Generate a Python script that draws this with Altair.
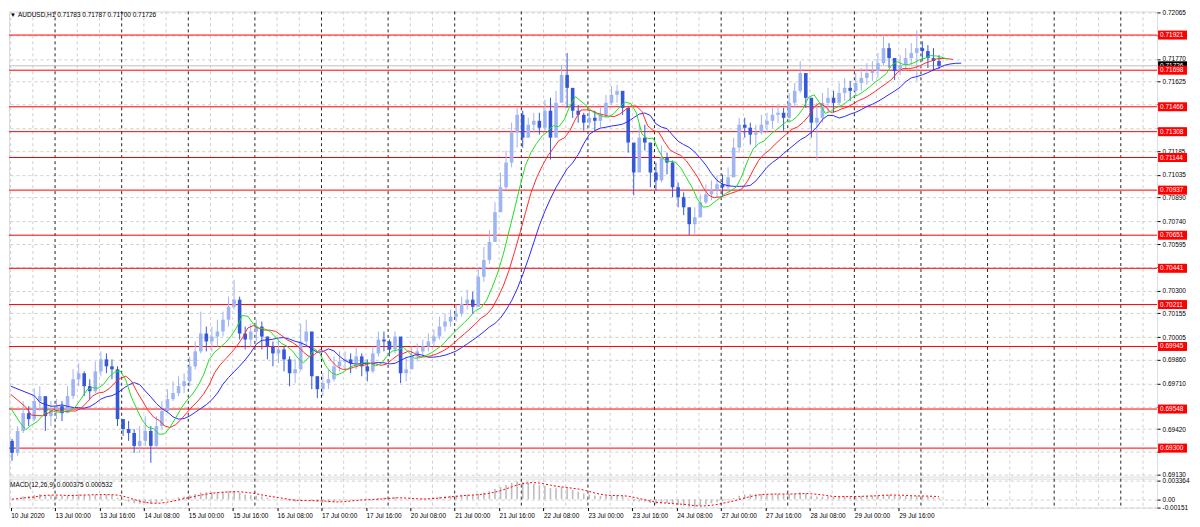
import altair as alt
import pandas as pd

# ---------------- data (2-hour bars, AUDUSD) ----------------
first_open = 0.69346
closes = [
    0.69270, 0.69409, 0.69522, 0.69484, 0.69598, 0.69630, 0.69503, 0.69535, 0.69566, 0.69522,
    0.69630, 0.69737, 0.69775, 0.69693, 0.69661, 0.69787, 0.69863, 0.69819, 0.69800, 0.69484,
    0.69421, 0.69396, 0.69314, 0.69346, 0.69409, 0.69314, 0.69440, 0.69535, 0.69611, 0.69649,
    0.69693, 0.69724, 0.69819, 0.69914, 0.70027, 0.69977, 0.70008, 0.70040, 0.70115, 0.70197,
    0.70242, 0.70027, 0.69989, 0.70040, 0.70071, 0.70008, 0.69945, 0.69901, 0.69926, 0.69863,
    0.69775, 0.69800, 0.69977, 0.70040, 0.69756, 0.69674, 0.69712, 0.69737, 0.69819, 0.69850,
    0.69863, 0.69838, 0.69882, 0.69819, 0.69787, 0.69901, 0.69989, 0.69977, 0.69926, 0.70008,
    0.69775, 0.69800, 0.69882, 0.69914, 0.69945, 0.69977, 0.70008, 0.70071, 0.70103, 0.70134,
    0.70153, 0.70216, 0.70242, 0.70197, 0.70387, 0.70494, 0.70608, 0.70797, 0.70955, 0.71112,
    0.71302, 0.71415, 0.71270, 0.71352, 0.71377, 0.71333, 0.71441, 0.71270, 0.71491, 0.71668,
    0.71586, 0.71441, 0.71415, 0.71365, 0.71396, 0.71377, 0.71415, 0.71491, 0.71542, 0.71567,
    0.71459, 0.71239, 0.71049, 0.71270, 0.71239, 0.71049, 0.70999, 0.71144, 0.71112, 0.70955,
    0.70892, 0.70828, 0.70721, 0.70765, 0.70860, 0.70910, 0.70936, 0.70974, 0.70955, 0.71018,
    0.71207, 0.71352, 0.71333, 0.71289, 0.71302, 0.71352, 0.71377, 0.71415, 0.71428, 0.71396,
    0.71491, 0.71567, 0.71680, 0.71523, 0.71365, 0.71396, 0.71491, 0.71523, 0.71491, 0.71554,
    0.71586, 0.71567, 0.71617, 0.71649, 0.71680, 0.71693, 0.71743, 0.71838, 0.71775, 0.71693,
    0.71731, 0.71775, 0.71807, 0.71838, 0.71819, 0.71775, 0.71756, 0.71726,
]
highs = [
    0.69358, 0.69440, 0.69598, 0.69566, 0.69680, 0.69693, 0.69611, 0.69598, 0.69611, 0.69598,
    0.69693, 0.69800, 0.69838, 0.69787, 0.69737, 0.69850, 0.69914, 0.69901, 0.69863, 0.69819,
    0.69484, 0.69472, 0.69421, 0.69440, 0.69503, 0.69440, 0.69503, 0.69598, 0.69674, 0.69724,
    0.69756, 0.69775, 0.69882, 0.69977, 0.70166, 0.70071, 0.70071, 0.70115, 0.70166, 0.70261,
    0.70368, 0.70261, 0.70071, 0.70090, 0.70115, 0.70103, 0.70008, 0.69977, 0.69989, 0.69945,
    0.69882, 0.69863, 0.70090, 0.70115, 0.70008, 0.69756, 0.69775, 0.69800, 0.69882, 0.69914,
    0.69914, 0.69901, 0.69945, 0.69901, 0.69863, 0.69945, 0.70040, 0.70040, 0.69989, 0.70040,
    0.69989, 0.69882, 0.69945, 0.69964, 0.69989, 0.70027, 0.70052, 0.70134, 0.70153, 0.70179,
    0.70210, 0.70261, 0.70305, 0.70292, 0.70450, 0.70576, 0.70683, 0.70860, 0.71049, 0.71188,
    0.71365, 0.71459, 0.71441, 0.71396, 0.71428, 0.71428, 0.71510, 0.71523, 0.71567, 0.71731,
    0.71807, 0.71504, 0.71478, 0.71428, 0.71441, 0.71441, 0.71459, 0.71542, 0.71598, 0.71605,
    0.71523, 0.71459, 0.71207, 0.71352, 0.71352, 0.71144, 0.71112, 0.71220, 0.71175, 0.71125,
    0.70986, 0.70923, 0.70828, 0.70828, 0.70910, 0.70974, 0.70999, 0.71030, 0.71037, 0.71081,
    0.71270, 0.71396, 0.71396, 0.71365, 0.71352, 0.71415, 0.71428, 0.71459, 0.71478, 0.71459,
    0.71554, 0.71617, 0.71756, 0.71680, 0.71523, 0.71491, 0.71554, 0.71586, 0.71567, 0.71617,
    0.71649, 0.71630, 0.71680, 0.71712, 0.71743, 0.71756, 0.71807, 0.71920, 0.71870, 0.71775,
    0.71794, 0.71838, 0.71870, 0.71952, 0.71882, 0.71857, 0.71838, 0.71794,
]
lows = [
    0.69220, 0.69251, 0.69396, 0.69440, 0.69472, 0.69535, 0.69409, 0.69440, 0.69484, 0.69472,
    0.69548, 0.69611, 0.69693, 0.69630, 0.69611, 0.69649, 0.69756, 0.69775, 0.69737, 0.69440,
    0.69377, 0.69346, 0.69270, 0.69270, 0.69314, 0.69207, 0.69295, 0.69421, 0.69522, 0.69598,
    0.69630, 0.69649, 0.69693, 0.69800, 0.69901, 0.69914, 0.69914, 0.69945, 0.70008, 0.70071,
    0.70179, 0.69989, 0.69926, 0.69945, 0.69977, 0.69926, 0.69863, 0.69819, 0.69838, 0.69787,
    0.69693, 0.69712, 0.69787, 0.69945, 0.69674, 0.69617, 0.69630, 0.69674, 0.69724, 0.69787,
    0.69800, 0.69775, 0.69800, 0.69756, 0.69724, 0.69775, 0.69882, 0.69914, 0.69882, 0.69901,
    0.69712, 0.69724, 0.69819, 0.69850, 0.69882, 0.69914, 0.69945, 0.69989, 0.70040, 0.70071,
    0.70103, 0.70134, 0.70179, 0.70153, 0.70197, 0.70355, 0.70469, 0.70620, 0.70797, 0.70936,
    0.71081, 0.71207, 0.71207, 0.71270, 0.71302, 0.71289, 0.71314, 0.71131, 0.71365, 0.71523,
    0.71459, 0.71396, 0.71365, 0.71314, 0.71333, 0.71314, 0.71333, 0.71396, 0.71478, 0.71491,
    0.71415, 0.71175, 0.70904, 0.71081, 0.71188, 0.70955, 0.70936, 0.70986, 0.71037, 0.70892,
    0.70828, 0.70778, 0.70652, 0.70658, 0.70765, 0.70847, 0.70873, 0.70892, 0.70892, 0.70923,
    0.71037, 0.71175, 0.71270, 0.71226, 0.71207, 0.71289, 0.71302, 0.71333, 0.71365, 0.71314,
    0.71365, 0.71459, 0.71554, 0.71459, 0.71270, 0.71125, 0.71365, 0.71428, 0.71428, 0.71478,
    0.71504, 0.71504, 0.71535, 0.71567, 0.71605, 0.71630, 0.71649, 0.71731, 0.71712, 0.71636,
    0.71668, 0.71693, 0.71731, 0.71630, 0.71756, 0.71712, 0.71693, 0.71706,
]

# Alligator starting levels read at the left edge (jaw, teeth, lips)
alligator_seed = [0.69693, 0.69642, 0.69554]

level_prices = [0.71921, 0.71698, 0.71466, 0.71308, 0.71144, 0.70937,
                0.70651, 0.70441, 0.70211, 0.69945, 0.69548, 0.69300]
bid_price = 0.71726

price_ticks = [0.72065, 0.71920, 0.71770, 0.71625, 0.71480, 0.71330, 0.71185,
               0.71035, 0.70890, 0.70740, 0.70595, 0.70450, 0.70300, 0.70155,
               0.70005, 0.69860, 0.69710, 0.69565, 0.69420, 0.69275, 0.69130]

time_labels = ['10 Jul 2020', '13 Jul 00:00', '13 Jul 16:00', '14 Jul 08:00',
               '15 Jul 00:00', '15 Jul 16:00', '16 Jul 08:00', '17 Jul 00:00',
               '17 Jul 16:00', '20 Jul 08:00', '21 Jul 00:00', '21 Jul 16:00',
               '22 Jul 08:00', '23 Jul 00:00', '23 Jul 16:00', '24 Jul 08:00',
               '27 Jul 00:00', '27 Jul 16:00', '28 Jul 08:00', '29 Jul 00:00',
               '29 Jul 16:00']
label_hours = [0, 16, 32, 48, 64, 80, 96, 112, 128, 144, 160, 176, 192, 208,
               224, 240, 256, 272, 288, 304, 320]
day_start_hours = [16, 40, 64, 88, 112, 136, 160, 184, 208, 232, 256, 280,
                   304, 328, 352, 376, 400]
grid_hours = [h for h in range(0, 416, 8) if h not in day_start_hours]

macd_ticks = [0.003364, 0.0, -0.00151]
macd_tick_labels = ['0.003364', '0.00', '-0.00151']

header_text = 'AUDUSD,H1  0.71783 0.71787 0.71700 0.71726'
macd_text = 'MACD(12,26,9) 0.000375 0.000532'

# ---------------- tables ----------------
W, H_MAIN, H_MACD = 1150, 466, 29
FONT = 'Liberation Sans'
FS = 6.5
XDOM = [-0.6, 413.07]

n = len(closes)
hours = [2 * j + 0.5 for j in range(n)]
opens = [first_open] + closes[:-1]
candles = pd.DataFrame({
    'hour': hours, 'open': opens, 'close': closes, 'high': highs, 'low': lows,
    'dir': ['up' if c >= o else 'down' for o, c in zip(opens, closes)],
})


def smooth(values, alpha, seed):
    out, s = [], seed
    for v in values:
        s = s + alpha * (v - s)
        out.append(s)
    return out


median = [(h + l) / 2 for h, l in zip(highs, lows)]


def gator_table(alpha, shift, seed):
    rows = [{'hour': 0.0, 'price': seed}]
    for hr, v in zip(hours, smooth(median, alpha, seed)):
        rows.append({'hour': hr + shift, 'price': v})
    return pd.DataFrame(rows)


jaw = gator_table(0.148, 8, alligator_seed[0])
teeth = gator_table(0.234, 5, alligator_seed[1])
lips = gator_table(0.36, 3, alligator_seed[2])

ema_fast = smooth(closes, 0.284, closes[0])
ema_slow = smooth(closes, 0.143, closes[0])
macd_vals = [a - b for a, b in zip(ema_fast, ema_slow)]
macd_df = pd.DataFrame({'hour': hours, 'macd': macd_vals})
macd_df['signal'] = macd_df['macd'].rolling(5, min_periods=1).mean()

levels = pd.DataFrame({'price': level_prices, 'label': [f'{p:.5f}' for p in level_prices]})
bid = pd.DataFrame({'price': [bid_price], 'label': [f'{bid_price:.5f}']})
grid_df = pd.DataFrame({'hour': grid_hours})
day_df = pd.DataFrame({'hour': day_start_hours})

# axis labels that sit under a price-level box are not shown (the box covers them)
hidden = [p for p in price_ticks if min(abs(p - q) for q in level_prices) < 0.0003]
hide_cond = ' || '.join(f'abs(datum.value - {p}) < 1e-7' for p in hidden) or 'false'
y_label_expr = f"({hide_cond}) ? '' : format(datum.value, '.5f')"

# ---------------- encodings ----------------
xscale = alt.Scale(domain=XDOM, nice=False, zero=False)
yscale = alt.Scale(domain=[0.69119, 0.72071], nice=False, zero=False)
yaxis = alt.Axis(orient='right', values=price_ticks, labelExpr=y_label_expr, title=None,
                 labelFont=FONT, labelFontSize=FS, labelColor='#000', labelPadding=2,
                 tickSize=3, tickColor='#000', domain=False,
                 grid=True, gridDash=[3, 3], gridColor='#cfcfcf')


def X(field):
    return alt.X(f'{field}:Q', scale=xscale, axis=None)


def Y(field):
    return alt.Y(f'{field}:Q', scale=yscale, axis=yaxis)


vgrid = alt.Chart(grid_df).mark_rule(color='#cfcfcf', strokeDash=[3, 3], strokeWidth=1).encode(x=X('hour'))
vday = alt.Chart(day_df).mark_rule(color='#222', strokeDash=[3, 3], strokeWidth=1).encode(x=X('hour'))

level_lines = alt.Chart(levels).mark_rule(color='#ff0000', strokeWidth=1).encode(y=Y('price'))
bid_line = alt.Chart(bid).mark_rule(color='#c0c0c0', strokeWidth=1).encode(y=Y('price'))

dir_color = alt.Color('dir:N', scale=alt.Scale(domain=['up', 'down'], range=['#9fb4f2', '#3558d8']), legend=None)
wicks = alt.Chart(candles).mark_rule(strokeWidth=1).encode(
    x=X('hour'), y=Y('low'), y2='high:Q', color=dir_color)
bodies = alt.Chart(candles).mark_rule(strokeWidth=3.6, strokeCap='butt').encode(
    x=X('hour'), y=Y('open'), y2='close:Q', color=dir_color)

jaw_line = alt.Chart(jaw).mark_line(strokeWidth=1, color='#2a2aff').encode(x=X('hour'), y=Y('price'))
teeth_line = alt.Chart(teeth).mark_line(strokeWidth=1, color='#ff2a2a').encode(x=X('hour'), y=Y('price'))
lips_line = alt.Chart(lips).mark_line(strokeWidth=1, color='#22dd22').encode(x=X('hour'), y=Y('price'))

bid_box = alt.Chart(bid).mark_rule(color='#000', strokeWidth=9, strokeCap='butt').encode(
    y=Y('price'), x=alt.value(W + 1), x2=alt.value(W + 30))
bid_txt = alt.Chart(bid).mark_text(align='left', baseline='middle', color='white', font=FONT, fontSize=FS).encode(
    y=Y('price'), x=alt.value(W + 3), text='label:N')
lvl_box = alt.Chart(levels).mark_rule(color='#ff0000', strokeWidth=9, strokeCap='butt').encode(
    y=Y('price'), x=alt.value(W + 1), x2=alt.value(W + 30))
lvl_txt = alt.Chart(levels).mark_text(align='left', baseline='middle', color='white', font=FONT, fontSize=FS).encode(
    y=Y('price'), x=alt.value(W + 3), text='label:N')

hdr = alt.Chart(pd.DataFrame({'t': [header_text], 'm': ['\u25bc']}))
hdr_tri = hdr.mark_text(align='left', baseline='middle', fontSize=6, color='#000').encode(
    x=alt.value(1), y=alt.value(4), text='m:N')
hdr_txt = hdr.mark_text(align='left', baseline='middle', font=FONT, fontSize=FS, color='#000').encode(
    x=alt.value(9), y=alt.value(4), text='t:N')

main = alt.layer(vgrid, vday, level_lines, bid_line, wicks, bodies,
                 jaw_line, teeth_line, lips_line,
                 bid_box, bid_txt, lvl_box, lvl_txt, hdr_tri, hdr_txt).properties(width=W, height=H_MAIN)

# ---------------- MACD panel ----------------
arr = '[' + ','.join(f"'{s}'" for s in time_labels) + ']'
x_label_expr = f'{arr}[round(datum.value/16)]'
macd_expr = ' : '.join(f"abs(datum.value - ({v})) < 1e-9 ? '{s}'" for v, s in zip(macd_ticks, macd_tick_labels)) + " : ''"

mxscale = alt.Scale(domain=XDOM, nice=False, zero=False)
mxaxis = alt.Axis(values=label_hours, labelExpr=x_label_expr, labelAlign='left', title=None,
                  labelFont=FONT, labelFontSize=FS, labelColor='#000', labelPadding=2,
                  tickSize=3, tickColor='#000', domain=False, grid=False, labelOverlap=False)
myscale = alt.Scale(domain=[-0.00151, 0.0037], nice=False, zero=False)
myaxis = alt.Axis(orient='right', values=macd_ticks, labelExpr=macd_expr, title=None,
                  labelFont=FONT, labelFontSize=FS, labelColor='#000', labelPadding=2,
                  tickSize=3, tickColor='#000', domain=False,
                  grid=True, gridDash=[3, 3], gridColor='#cfcfcf')


def MX(field):
    return alt.X(f'{field}:Q', scale=mxscale, axis=mxaxis)


def MY(field):
    return alt.Y(f'{field}:Q', scale=myscale, axis=myaxis)


m_vgrid = alt.Chart(grid_df).mark_rule(color='#cfcfcf', strokeDash=[3, 3]).encode(x=MX('hour'))
m_vday = alt.Chart(day_df).mark_rule(color='#222', strokeDash=[3, 3]).encode(x=MX('hour'))
hist = alt.Chart(macd_df).mark_rule(color='#bdbdbd', strokeWidth=1.6, clip=True).encode(
    x=MX('hour'), y=MY('macd'), y2=alt.datum(0))
sig = alt.Chart(macd_df).mark_line(color='#ff0000', strokeWidth=1, strokeDash=[2, 2], clip=True).encode(
    x=MX('hour'), y=MY('signal'))
mtxt = alt.Chart(pd.DataFrame({'t': [macd_text]})).mark_text(
    align='left', baseline='middle', font=FONT, fontSize=FS, color='#000').encode(
    x=alt.value(1), y=alt.value(6), text='t:N')

macd_panel = alt.layer(m_vgrid, m_vday, hist, sig, mtxt).properties(width=W, height=H_MACD)

chart = alt.vconcat(main, macd_panel, spacing=2, bounds='flush').properties(
    padding={'left': 0, 'top': 0, 'right': 0, 'bottom': 0}
).configure_view(stroke='#000', strokeWidth=1).configure(background='white')

chart.save('out.html', embed_options={'renderer': 'svg', 'actions': False})
